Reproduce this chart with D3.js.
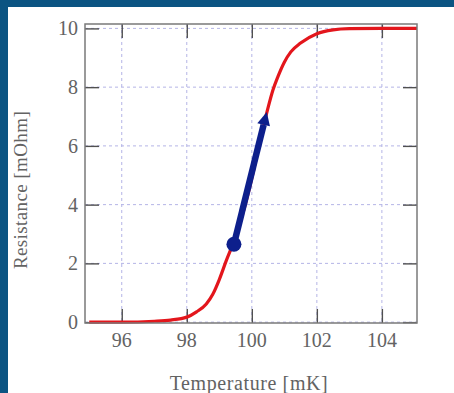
<!DOCTYPE html>
<html>
<head>
<meta charset="utf-8">
<script src="https://cdn.jsdelivr.net/npm/d3@7"></script>
<style>
  html, body { margin: 0; padding: 0; background: #0b5482; }
  svg { display: block; }
</style>
</head>
<body>
<svg id="chart"></svg>
<script>
// Superconducting transition curve
const temps = [95, 96, 97, 97.5, 98, 98.3, 98.6, 98.8, 99.0, 99.2, 99.5, 99.8, 100, 100.2, 100.5, 100.65, 100.8, 101, 101.2, 101.5, 102, 102.5, 103, 104, 105.08];
const resist = [0, 0, 0.03, 0.07, 0.17, 0.35, 0.62, 0.95, 1.45, 2.05, 2.9, 4.0, 4.9, 5.9, 7.3, 7.9, 8.35, 8.85, 9.2, 9.5, 9.82, 9.95, 9.99, 10, 10];

// Blue arrow: start point (dot) and tip
const arrowFrom = [99.45, 2.65];
const arrowTo = [100.46, 7.15];

const xTicks = [96, 98, 100, 102, 104];
const yTicks = [0, 2, 4, 6, 8, 10];

const W = 454, H = 393;
const svg = d3.select('#chart').attr('width', W).attr('height', H);

// blue frame around the picture, white panel inside
svg.append('rect').attr('width', W).attr('height', H).attr('fill', '#0b5482');
svg.append('rect').attr('x', 8).attr('y', 7).attr('width', W - 8).attr('height', H - 7).attr('fill', '#fff');

const mLeft = 85, mRight = 417, mTop = 24, mBottom = 323;
const x = d3.scaleLinear().domain([94.87, 105.08]).range([mLeft, mRight]);
const y = d3.scaleLinear().domain([-0.03, 10.15]).range([mBottom, mTop]);

const font = '"Liberation Serif", "DejaVu Serif", serif';
const textCol = '#636363';

// Grid
const grid = svg.append('g').attr('stroke', '#b4b4e6').attr('stroke-width', 1).attr('stroke-dasharray', '3,3');
grid.selectAll('.gx').data(xTicks).enter().append('line')
    .attr('x1', d => x(d)).attr('x2', d => x(d))
    .attr('y1', mTop).attr('y2', mBottom);
grid.selectAll('.gy').data(yTicks).enter().append('line')
    .attr('x1', mLeft).attr('x2', mRight)
    .attr('y1', d => y(d)).attr('y2', d => y(d));

// Inner ticks on all four sides
const tickLen = 14;
const axisL = d3.axisLeft(y).tickValues(yTicks).tickSizeInner(-tickLen).tickSizeOuter(0).tickFormat('');
const axisR = d3.axisRight(y).tickValues(yTicks).tickSizeInner(-tickLen).tickSizeOuter(0).tickFormat('');
const axisT = d3.axisTop(x).tickValues(xTicks).tickSizeInner(-tickLen).tickSizeOuter(0).tickFormat('');
const axisB = d3.axisBottom(x).tickValues(xTicks).tickSizeInner(-tickLen).tickSizeOuter(0).tickFormat('');

[[axisL, `translate(${mLeft},0)`], [axisR, `translate(${mRight},0)`],
 [axisT, `translate(0,${mTop})`], [axisB, `translate(0,${mBottom})`]].forEach(([ax, tr]) => {
    const g = svg.append('g').attr('transform', tr).call(ax);
    g.select('.domain').remove();
    g.selectAll('line').attr('stroke', '#505050').attr('stroke-width', 1.4);
});

// Tick labels
svg.append('g').selectAll('text').data(yTicks).enter().append('text')
    .attr('x', 78).attr('y', d => y(d) + 7)
    .attr('text-anchor', 'end')
    .attr('font-family', font).attr('font-size', 20).attr('fill', textCol)
    .text(d => d);
svg.append('g').selectAll('text').data(xTicks).enter().append('text')
    .attr('x', d => x(d)).attr('y', 347)
    .attr('text-anchor', 'middle')
    .attr('font-family', font).attr('font-size', 20).attr('fill', textCol)
    .text(d => d);

// Axis titles
svg.append('text')
    .attr('x', 249).attr('y', 390)
    .attr('text-anchor', 'middle')
    .attr('font-family', font).attr('font-size', 20).attr('letter-spacing', 0.6).attr('fill', textCol)
    .text('Temperature [mK]');
svg.append('text')
    .attr('transform', 'translate(27,190) rotate(-90)')
    .attr('text-anchor', 'middle')
    .attr('font-family', font).attr('font-size', 19).attr('letter-spacing', 0.4).attr('fill', textCol)
    .text('Resistance [mOhm]');

// Red transition curve
const pts = temps.map((t, i) => [t, resist[i]]);
const line = d3.line().x(d => x(d[0])).y(d => y(d[1])).curve(d3.curveMonotoneX);
svg.append('path').datum(pts)
    .attr('d', line)
    .attr('fill', 'none')
    .attr('stroke', '#e3161c')
    .attr('stroke-width', 3.2)
    .attr('stroke-linejoin', 'round');

// Frame
svg.append('rect')
    .attr('x', mLeft).attr('y', mTop).attr('width', mRight - mLeft).attr('height', mBottom - mTop)
    .attr('fill', 'none').attr('stroke', '#7a7a7a').attr('stroke-width', 1.5);

// Blue arrow
const navy = '#0d1f8c';
const x0 = x(arrowFrom[0]), y0 = y(arrowFrom[1]);
const x1 = x(arrowTo[0]), y1 = y(arrowTo[1]);
const ang = Math.atan2(y1 - y0, x1 - x0);
const headLen = 13, headW = 6.5;
const bx = x1 - headLen * Math.cos(ang), by = y1 - headLen * Math.sin(ang);
svg.append('line')
    .attr('x1', x0).attr('y1', y0).attr('x2', bx).attr('y2', by)
    .attr('stroke', navy).attr('stroke-width', 6.5);
svg.append('path')
    .attr('d', `M${x1},${y1}L${bx + headW * Math.sin(ang)},${by - headW * Math.cos(ang)}L${bx - headW * Math.sin(ang)},${by + headW * Math.cos(ang)}Z`)
    .attr('fill', navy);
svg.append('circle')
    .attr('cx', x0).attr('cy', y0).attr('r', 7.5)
    .attr('fill', navy);
</script>
</body>
</html>
